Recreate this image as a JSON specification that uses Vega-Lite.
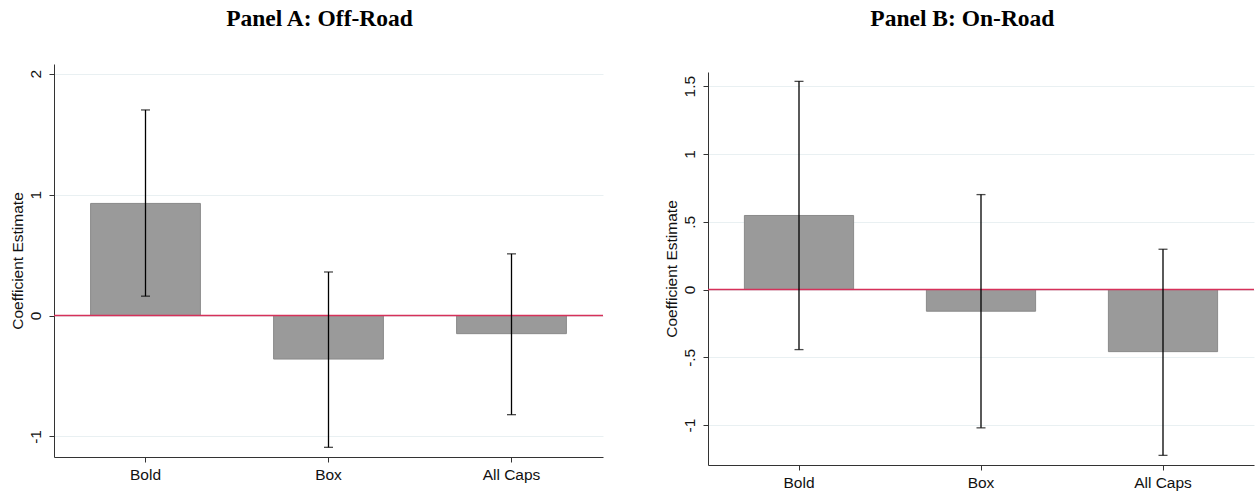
{
  "$schema": "https://vega.github.io/schema/vega-lite/v6.json",
  "background": "white",
  "padding": {"left": 9, "top": 6, "right": 0, "bottom": 0},
  "datasets": {
    "A": [
      {"cond": "Bold", "est": 0.927, "lo": 0.16, "hi": 1.70},
      {"cond": "Box", "est": -0.36, "lo": -1.09, "hi": 0.36},
      {"cond": "All Caps", "est": -0.15, "lo": -0.82, "hi": 0.51}
    ],
    "B": [
      {"cond": "Bold", "est": 0.546, "lo": -0.443, "hi": 1.535},
      {"cond": "Box", "est": -0.16, "lo": -1.02, "hi": 0.70},
      {"cond": "All Caps", "est": -0.458, "lo": -1.223, "hi": 0.297}
    ],
    "zero": [{"z": 0}],
    "none": []
  },
  "config": {
    "view": {"stroke": null},
    "font": "Liberation Sans",
    "title": {"font": "Liberation Serif", "fontSize": 23.5, "fontWeight": "bold", "color": "black", "anchor": "middle"},
    "axis": {
      "domainColor": "#333333", "tickColor": "#333333", "labelColor": "#111111", "titleColor": "#111111",
      "labelFont": "Liberation Sans", "titleFont": "Liberation Sans", "labelFontSize": 15.5, "titleFontSize": 15.5, "titleFontWeight": "normal",
      "tickSize": 5, "gridColor": "#e9f0f2", "gridWidth": 1
    }
  },
  "spacing": 60,
  "hconcat": [
    {
      "title": {"text": "Panel A: Off-Road", "offset": 34, "dx": -9},
      "width": 549,
      "height": 393,
      "layer": [
        {
          "data": {"name": "A"},
          "mark": {"type": "bar", "color": "#9a9a9a", "stroke": "#8a8a8a", "strokeWidth": 1},
          "encoding": {
            "x": {"field": "cond", "type": "nominal", "sort": ["Bold", "Box", "All Caps"],
                  "scale": {"paddingInner": 0.4, "paddingOuter": 0.2},
                  "axis": {"title": null, "labelAngle": 0, "labelPadding": 5, "grid": false}},
            "y": {"field": "est", "type": "quantitative",
                  "scale": {"domain": [-1.17, 2.08], "nice": false, "zero": false},
                  "axis": {"title": "Coefficient Estimate", "values": [-1, 0, 1, 2],
                           "labelExpr": "toString(datum.value)", "labelAngle": -90,
                           "labelAlign": "center", "labelBaseline": "bottom", "labelPadding": 6, "titlePadding": 3, "grid": true}},
            "y2": {"datum": 0}
          }
        },
        {
          "data": {"name": "zero"},
          "mark": {"type": "rule", "color": "#d6315a", "strokeWidth": 1.5},
          "encoding": {"y": {"field": "z", "type": "quantitative"}}
        },
        {
          "data": {"name": "A"},
          "mark": {"type": "rule", "color": "black", "strokeWidth": 1.3},
          "encoding": {
            "x": {"field": "cond", "type": "nominal", "sort": ["Bold", "Box", "All Caps"]},
            "y": {"field": "lo", "type": "quantitative"},
            "y2": {"field": "hi"}
          }
        },
        {
          "data": {"name": "A"},
          "mark": {"type": "tick", "color": "black", "size": 9, "thickness": 1.3, "orient": "horizontal"},
          "encoding": {
            "x": {"field": "cond", "type": "nominal", "sort": ["Bold", "Box", "All Caps"]},
            "y": {"field": "lo", "type": "quantitative"}
          }
        },
        {
          "data": {"name": "A"},
          "mark": {"type": "tick", "color": "black", "size": 9, "thickness": 1.3, "orient": "horizontal"},
          "encoding": {
            "x": {"field": "cond", "type": "nominal", "sort": ["Bold", "Box", "All Caps"]},
            "y": {"field": "hi", "type": "quantitative"}
          }
        }
      ]
    },
    {
      "title": {"text": "Panel B: On-Road", "offset": 34, "dx": 3, "anchor": "middle"},
      "spacing": 7,
      "vconcat": [
        {
          "width": 546,
          "height": 1,
          "data": {"name": "none"},
          "mark": {"type": "point", "opacity": 0},
          "encoding": {}
        },
        {
          "width": 546,
          "height": 393,
          "layer": [
            {
              "data": {"name": "B"},
              "mark": {"type": "bar", "color": "#9a9a9a", "stroke": "#8a8a8a", "strokeWidth": 1},
              "encoding": {
                "x": {"field": "cond", "type": "nominal", "sort": ["Bold", "Box", "All Caps"],
                      "scale": {"paddingInner": 0.4, "paddingOuter": 0.2},
                      "axis": {"title": null, "labelAngle": 0, "labelPadding": 5, "grid": false}},
                "y": {"field": "est", "type": "quantitative",
                      "scale": {"domain": [-1.294, 1.604], "nice": false, "zero": false},
                      "axis": {"title": "Coefficient Estimate", "values": [-1, -0.5, 0, 0.5, 1, 1.5],
                               "labelExpr": "datum.value == 0 ? '0' : replace(toString(datum.value), '0.', '.')",
                               "labelAngle": -90, "labelAlign": "center", "labelBaseline": "bottom", "labelPadding": 6, "titlePadding": 3, "grid": true}},
                "y2": {"datum": 0}
              }
            },
            {
              "data": {"name": "zero"},
              "mark": {"type": "rule", "color": "#d6315a", "strokeWidth": 1.5},
              "encoding": {"y": {"field": "z", "type": "quantitative"}}
            },
            {
              "data": {"name": "B"},
              "mark": {"type": "rule", "color": "black", "strokeWidth": 1.3},
              "encoding": {
                "x": {"field": "cond", "type": "nominal", "sort": ["Bold", "Box", "All Caps"]},
                "y": {"field": "lo", "type": "quantitative"},
                "y2": {"field": "hi"}
              }
            },
            {
              "data": {"name": "B"},
              "mark": {"type": "tick", "color": "black", "size": 9, "thickness": 1.3, "orient": "horizontal"},
              "encoding": {
                "x": {"field": "cond", "type": "nominal", "sort": ["Bold", "Box", "All Caps"]},
                "y": {"field": "lo", "type": "quantitative"}
              }
            },
            {
              "data": {"name": "B"},
              "mark": {"type": "tick", "color": "black", "size": 9, "thickness": 1.3, "orient": "horizontal"},
              "encoding": {
                "x": {"field": "cond", "type": "nominal", "sort": ["Bold", "Box", "All Caps"]},
                "y": {"field": "hi", "type": "quantitative"}
              }
            }
          ]
        }
      ]
    }
  ]
}
